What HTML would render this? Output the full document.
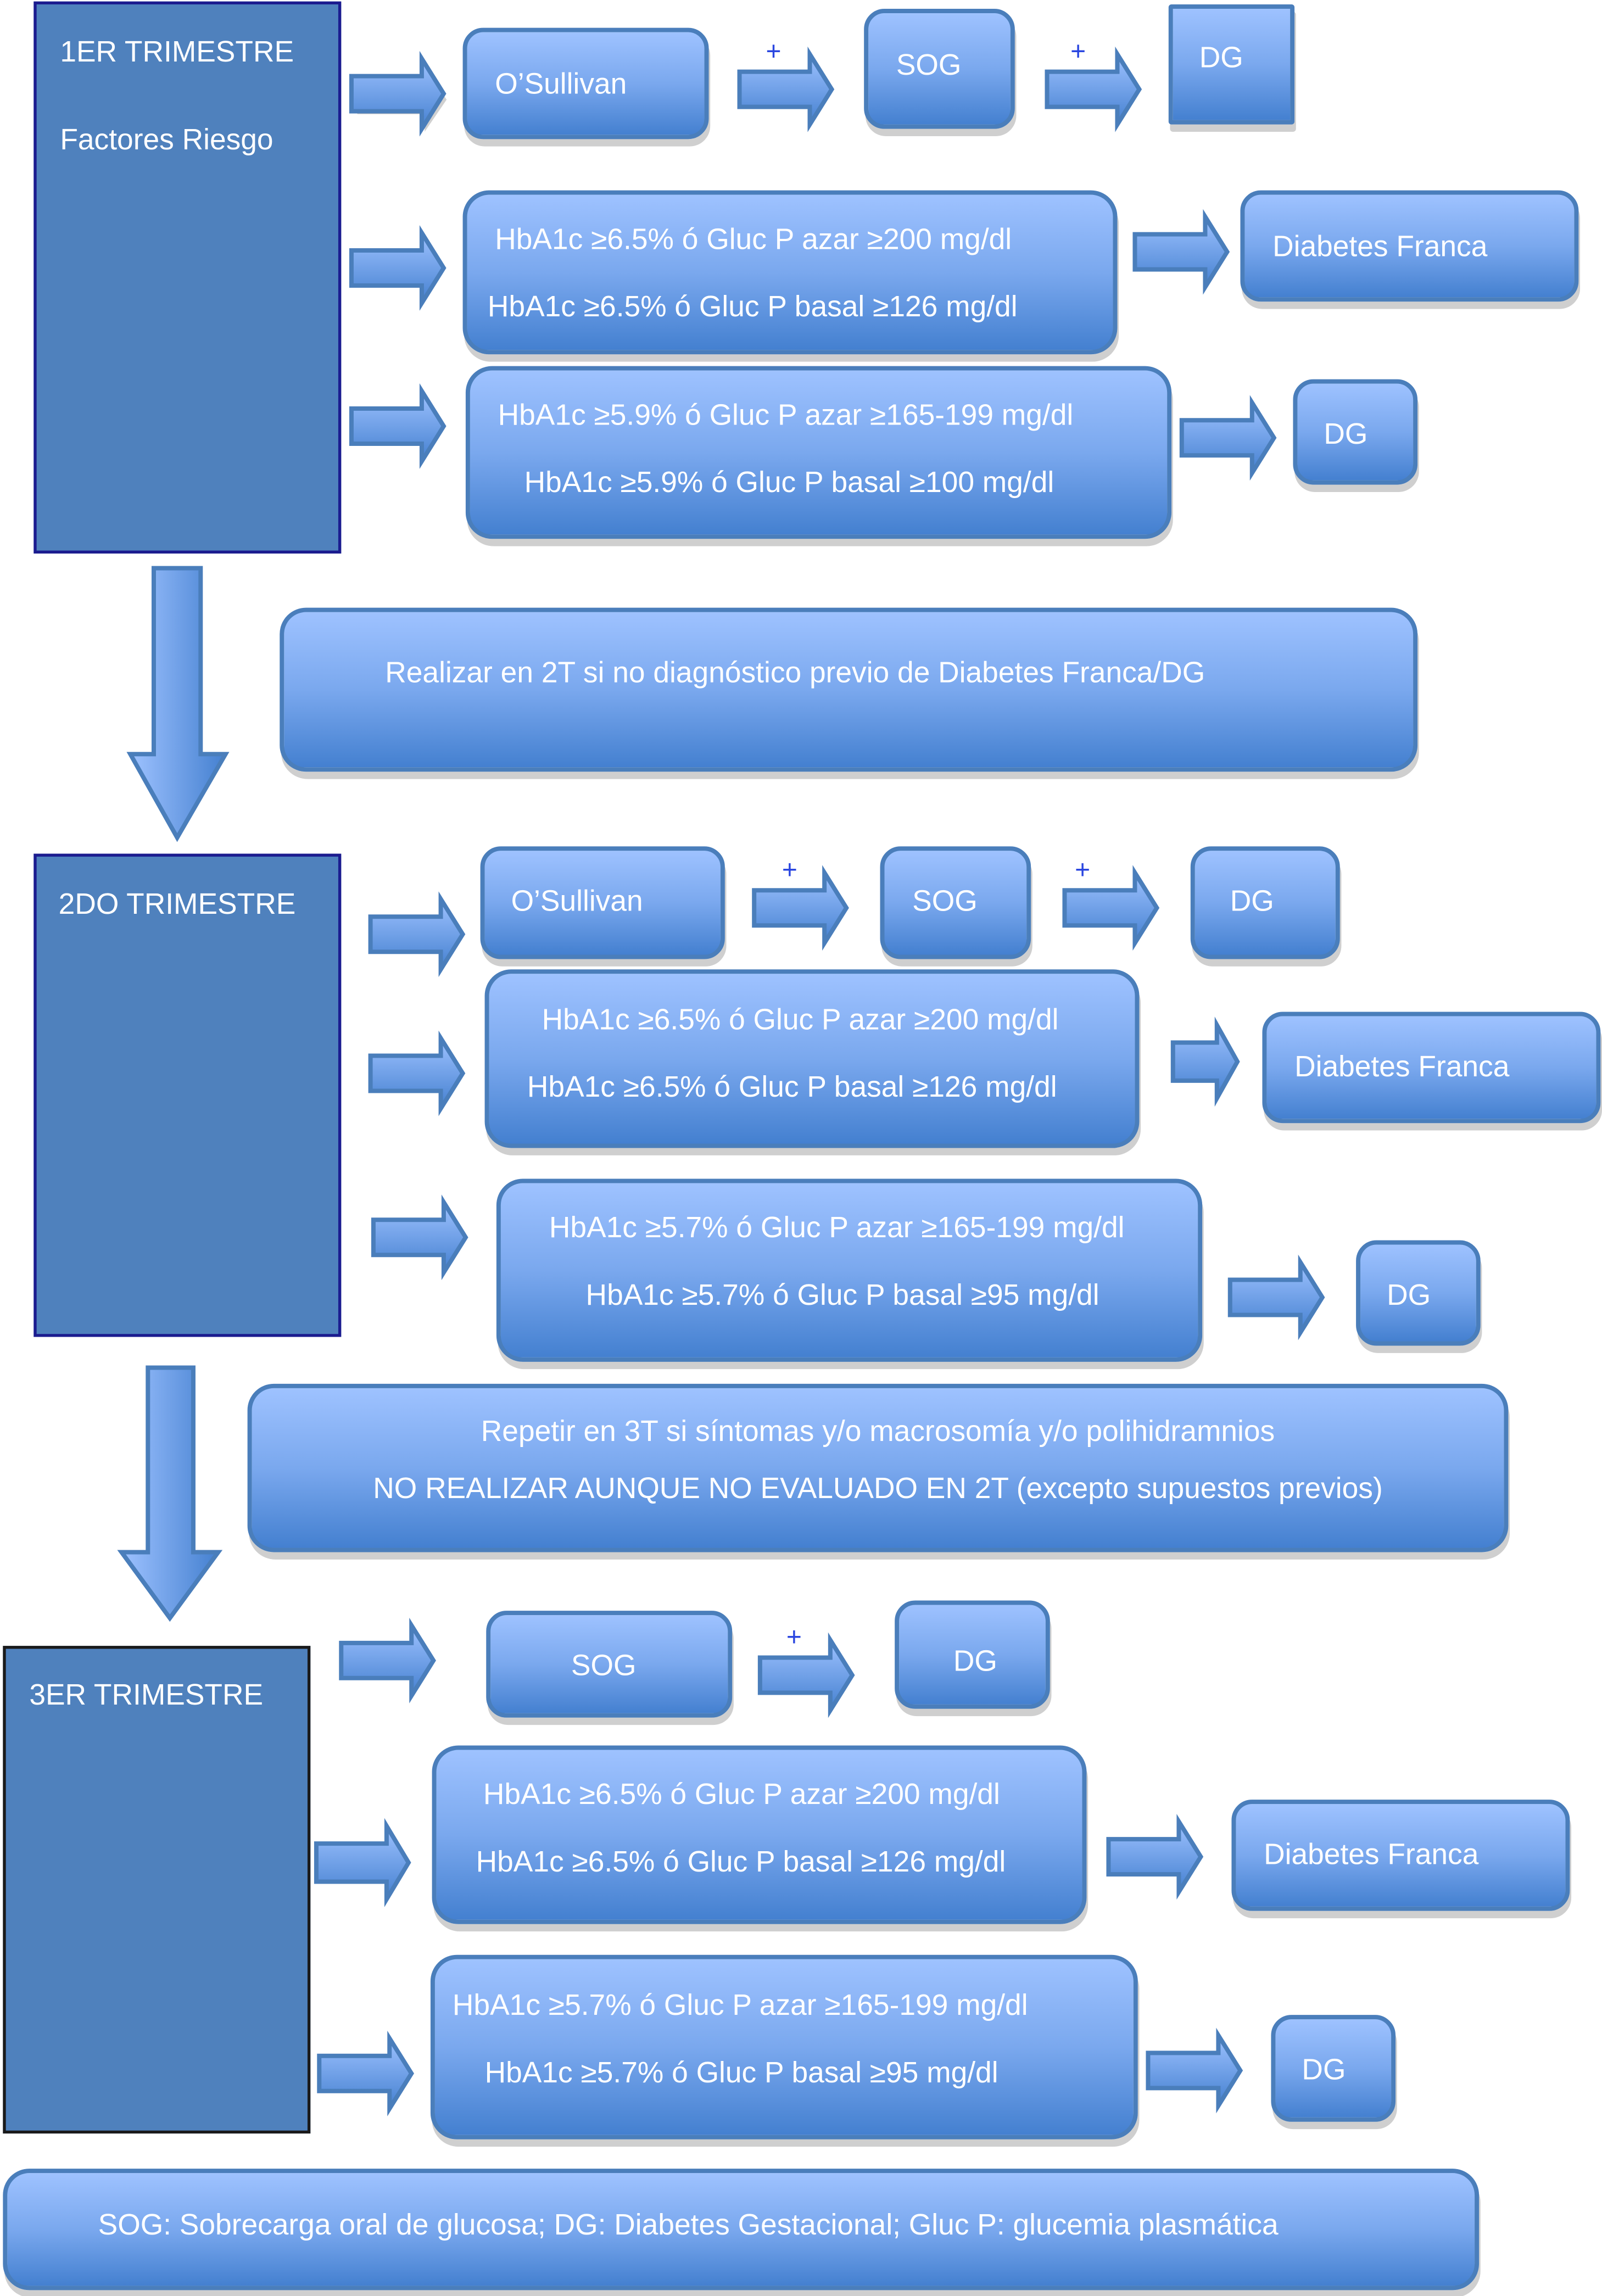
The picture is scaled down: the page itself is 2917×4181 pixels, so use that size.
<!DOCTYPE html>
<html><head><meta charset="utf-8">
<style>
html,body{margin:0;padding:0;background:#fff;}
body{width:2917px;height:4181px;overflow:hidden;position:relative;}
#s{position:absolute;left:0;top:0;width:1094px;height:1568px;transform:scale(2.6664,2.6665);transform-origin:0 0;font-family:"Liberation Sans",Arial,sans-serif;}
.b{position:absolute;box-sizing:border-box;border:3px solid #4a7ebb;border-radius:14px;background:linear-gradient(#9ec2ff,#7aa8ee 50%,#4480d0);box-shadow:1px 5px 0 #cfcfcf;}
.t{position:absolute;color:#fff;font-size:20px;line-height:24px;white-space:nowrap;}
.p{position:absolute;color:#2a46e0;font-size:18px;line-height:18px;}
.m{position:absolute;box-sizing:border-box;background:#4f81bd;}
svg.a{position:absolute;overflow:visible;}
</style></head><body>
<svg width="0" height="0" style="position:absolute">
<defs>
<linearGradient id="g" x1="0" y1="0" x2="0" y2="1"><stop offset="0" stop-color="#9ec2ff"/><stop offset="1" stop-color="#4480d0"/></linearGradient>
<linearGradient id="gh" x1="0" y1="0" x2="1" y2="0"><stop offset="0" stop-color="#9ec2ff"/><stop offset="1" stop-color="#4480d0"/></linearGradient>
</defs></svg>
<div id="s">

<!-- 1ER -->
<div class="m" style="left:23px;top:1px;width:210px;height:377px;border:2px solid #1b1b8f;"></div>
<div class="t" style="left:41px;top:24px;">1ER TRIMESTRE</div>
<div class="t" style="left:41px;top:84px;">Factores Riesgo</div>

<svg class="a" style="left:240px;top:40px" width="65" height="48"><polygon points="2,24 2,14 48,14 48,2 63,24 48,46 48,34 2,34" transform="translate(2,4)" fill="#d0d0d0"/><polygon points="0,12 48,12 48,0 63,24 48,48 48,36 0,36" fill="url(#g)" stroke="#4a7ebb" stroke-width="3"/></svg>
<div class="b" style="left:316px;top:19px;width:168px;height:76px;"></div>
<div class="t" style="left:338px;top:46px;">O’Sullivan</div>
<div class="p" style="left:523px;top:26px;">+</div>
<svg class="a" style="left:505px;top:37px" width="65" height="48"><polygon points="0,12 48,12 48,0 63,24 48,48 48,36 0,36" fill="url(#g)" stroke="#4a7ebb" stroke-width="3"/></svg>
<div class="b" style="left:590px;top:6px;width:103px;height:82px;"></div>
<div class="t" style="left:612px;top:33px;">SOG</div>
<div class="p" style="left:731px;top:26px;">+</div>
<svg class="a" style="left:715px;top:37px" width="65" height="48"><polygon points="0,12 48,12 48,0 63,24 48,48 48,36 0,36" fill="url(#g)" stroke="#4a7ebb" stroke-width="3"/></svg>
<div class="b" style="left:798px;top:3px;width:86px;height:82px;border-radius:2px;"></div>
<div class="t" style="left:819px;top:28px;">DG</div>

<svg class="a" style="left:240px;top:159px" width="65" height="48"><polygon points="0,12 48,12 48,0 63,24 48,48 48,36 0,36" fill="url(#g)" stroke="#4a7ebb" stroke-width="3"/></svg>
<div class="b" style="left:316px;top:130px;width:447px;height:112px;border-radius:18px;"></div>
<div class="t" style="left:338px;top:152px;">HbA1c ≥6.5% ó Gluc P azar ≥200 mg/dl</div>
<div class="t" style="left:333px;top:198px;">HbA1c ≥6.5% ó Gluc P basal ≥126 mg/dl</div>
<svg class="a" style="left:775px;top:148px" width="65" height="48"><polygon points="0,12 48,12 48,0 63,24 48,48 48,36 0,36" fill="url(#g)" stroke="#4a7ebb" stroke-width="3"/></svg>
<div class="b" style="left:847px;top:130px;width:231px;height:76px;"></div>
<div class="t" style="left:869px;top:157px;">Diabetes Franca</div>

<svg class="a" style="left:240px;top:267px" width="65" height="48"><polygon points="0,12 48,12 48,0 63,24 48,48 48,36 0,36" fill="url(#g)" stroke="#4a7ebb" stroke-width="3"/></svg>
<div class="b" style="left:318px;top:250px;width:482px;height:118px;border-radius:18px;"></div>
<div class="t" style="left:340px;top:272px;">HbA1c ≥5.9% ó Gluc P azar ≥165-199 mg/dl</div>
<div class="t" style="left:358px;top:318px;">HbA1c ≥5.9% ó Gluc P basal ≥100 mg/dl</div>
<svg class="a" style="left:807px;top:275px" width="65" height="48"><polygon points="0,12 48,12 48,0 63,24 48,48 48,36 0,36" fill="url(#g)" stroke="#4a7ebb" stroke-width="3"/></svg>
<div class="b" style="left:883px;top:259px;width:85px;height:72px;"></div>
<div class="t" style="left:904px;top:285px;">DG</div>

<!-- down arrow 1 -->
<svg class="a" style="left:88px;top:388px" width="67" height="185"><polygon points="17,0 49,0 49,127 66,127 33,184 1,127 17,127" fill="url(#gh)" stroke="#4a7ebb" stroke-width="3"/></svg>

<div class="b" style="left:191px;top:415px;width:777px;height:112px;border-radius:18px;"></div>
<div class="t" style="left:263px;top:448px;">Realizar en 2T si no diagnóstico previo de Diabetes Franca/DG</div>

<!-- 2DO -->
<div class="m" style="left:23px;top:583px;width:210px;height:330px;border:2px solid #1b1b8f;"></div>
<div class="t" style="left:40px;top:606px;">2DO TRIMESTRE</div>

<svg class="a" style="left:253px;top:614px" width="65" height="48"><polygon points="0,12 48,12 48,0 63,24 48,48 48,36 0,36" fill="url(#g)" stroke="#4a7ebb" stroke-width="3"/></svg>
<div class="b" style="left:328px;top:578px;width:167px;height:77px;"></div>
<div class="t" style="left:349px;top:604px;">O’Sullivan</div>
<div class="p" style="left:534px;top:585px;">+</div>
<svg class="a" style="left:515px;top:596px" width="65" height="48"><polygon points="0,12 48,12 48,0 63,24 48,48 48,36 0,36" fill="url(#g)" stroke="#4a7ebb" stroke-width="3"/></svg>
<div class="b" style="left:601px;top:578px;width:103px;height:77px;"></div>
<div class="t" style="left:623px;top:604px;">SOG</div>
<div class="p" style="left:734px;top:585px;">+</div>
<svg class="a" style="left:727px;top:596px" width="65" height="48"><polygon points="0,12 48,12 48,0 63,24 48,48 48,36 0,36" fill="url(#g)" stroke="#4a7ebb" stroke-width="3"/></svg>
<div class="b" style="left:813px;top:578px;width:102px;height:77px;"></div>
<div class="t" style="left:840px;top:604px;">DG</div>

<svg class="a" style="left:253px;top:709px" width="65" height="48"><polygon points="0,12 48,12 48,0 63,24 48,48 48,36 0,36" fill="url(#g)" stroke="#4a7ebb" stroke-width="3"/></svg>
<div class="b" style="left:331px;top:662px;width:447px;height:122px;border-radius:18px;"></div>
<div class="t" style="left:370px;top:685px;">HbA1c ≥6.5% ó Gluc P azar ≥200 mg/dl</div>
<div class="t" style="left:360px;top:731px;">HbA1c ≥6.5% ó Gluc P basal ≥126 mg/dl</div>
<svg class="a" style="left:801px;top:700px" width="45" height="50"><polygon points="0,12 30,12 30,0 44,25 30,50 30,38 0,38" fill="url(#g)" stroke="#4a7ebb" stroke-width="3"/></svg>
<div class="b" style="left:862px;top:691px;width:231px;height:76px;"></div>
<div class="t" style="left:884px;top:717px;">Diabetes Franca</div>

<svg class="a" style="left:255px;top:821px" width="65" height="48"><polygon points="0,12 48,12 48,0 63,24 48,48 48,36 0,36" fill="url(#g)" stroke="#4a7ebb" stroke-width="3"/></svg>
<div class="b" style="left:339px;top:805px;width:482px;height:125px;border-radius:18px;"></div>
<div class="t" style="left:375px;top:827px;">HbA1c ≥5.7% ó Gluc P azar ≥165-199 mg/dl</div>
<div class="t" style="left:400px;top:873px;">HbA1c ≥5.7% ó Gluc P basal ≥95 mg/dl</div>
<svg class="a" style="left:840px;top:862px" width="65" height="48"><polygon points="0,12 48,12 48,0 63,24 48,48 48,36 0,36" fill="url(#g)" stroke="#4a7ebb" stroke-width="3"/></svg>
<div class="b" style="left:926px;top:847px;width:85px;height:72px;"></div>
<div class="t" style="left:947px;top:873px;">DG</div>

<!-- down arrow 2 -->
<svg class="a" style="left:82px;top:934px" width="68" height="172"><polygon points="19,0 50,0 50,126 67,126 34,171 1,126 19,126" fill="url(#gh)" stroke="#4a7ebb" stroke-width="3"/></svg>

<div class="b" style="left:169px;top:945px;width:861px;height:115px;border-radius:18px;"></div>
<div class="t" style="left:169px;top:966px;width:861px;text-align:center;">Repetir en 3T si síntomas y/o macrosomía y/o polihidramnios</div>
<div class="t" style="left:169px;top:1005px;width:861px;text-align:center;">NO REALIZAR AUNQUE NO EVALUADO EN 2T (excepto supuestos previos)</div>

<!-- 3ER -->
<div class="m" style="left:2px;top:1124px;width:210px;height:333px;border:2px solid #1a1a1a;"></div>
<div class="t" style="left:20px;top:1146px;">3ER TRIMESTRE</div>

<svg class="a" style="left:233px;top:1110px" width="65" height="48"><polygon points="0,12 48,12 48,0 63,24 48,48 48,36 0,36" fill="url(#g)" stroke="#4a7ebb" stroke-width="3"/></svg>
<div class="b" style="left:332px;top:1100px;width:168px;height:73px;"></div>
<div class="t" style="left:390px;top:1126px;">SOG</div>
<div class="p" style="left:537px;top:1109px;">+</div>
<svg class="a" style="left:519px;top:1120px" width="65" height="48"><polygon points="0,12 48,12 48,0 63,24 48,48 48,36 0,36" fill="url(#g)" stroke="#4a7ebb" stroke-width="3"/></svg>
<div class="b" style="left:611px;top:1093px;width:106px;height:74px;"></div>
<div class="t" style="left:651px;top:1123px;">DG</div>

<svg class="a" style="left:216px;top:1247px" width="65" height="50"><polygon points="0,12 48,12 48,0 63,25 48,50 48,38 0,38" fill="url(#g)" stroke="#4a7ebb" stroke-width="3"/></svg>
<div class="b" style="left:295px;top:1192px;width:447px;height:122px;border-radius:18px;"></div>
<div class="t" style="left:330px;top:1214px;">HbA1c ≥6.5% ó Gluc P azar ≥200 mg/dl</div>
<div class="t" style="left:325px;top:1260px;">HbA1c ≥6.5% ó Gluc P basal ≥126 mg/dl</div>
<svg class="a" style="left:757px;top:1244px" width="65" height="48"><polygon points="0,12 48,12 48,0 63,24 48,48 48,36 0,36" fill="url(#g)" stroke="#4a7ebb" stroke-width="3"/></svg>
<div class="b" style="left:841px;top:1229px;width:231px;height:76px;"></div>
<div class="t" style="left:863px;top:1255px;">Diabetes Franca</div>

<svg class="a" style="left:218px;top:1392px" width="65" height="48"><polygon points="0,12 48,12 48,0 63,24 48,48 48,36 0,36" fill="url(#g)" stroke="#4a7ebb" stroke-width="3"/></svg>
<div class="b" style="left:294px;top:1335px;width:483px;height:126px;border-radius:18px;"></div>
<div class="t" style="left:309px;top:1358px;">HbA1c ≥5.7% ó Gluc P azar ≥165-199 mg/dl</div>
<div class="t" style="left:331px;top:1404px;">HbA1c ≥5.7% ó Gluc P basal ≥95 mg/dl</div>
<svg class="a" style="left:784px;top:1390px" width="65" height="48"><polygon points="0,12 48,12 48,0 63,24 48,48 48,36 0,36" fill="url(#g)" stroke="#4a7ebb" stroke-width="3"/></svg>
<div class="b" style="left:868px;top:1376px;width:85px;height:73px;"></div>
<div class="t" style="left:889px;top:1402px;">DG</div>

<div class="b" style="left:2px;top:1481px;width:1008px;height:83px;border-radius:18px;"></div>
<div class="t" style="left:67px;top:1508px;">SOG: Sobrecarga oral de glucosa; DG: Diabetes Gestacional; Gluc P: glucemia plasmática</div>

</div>
</body></html>
